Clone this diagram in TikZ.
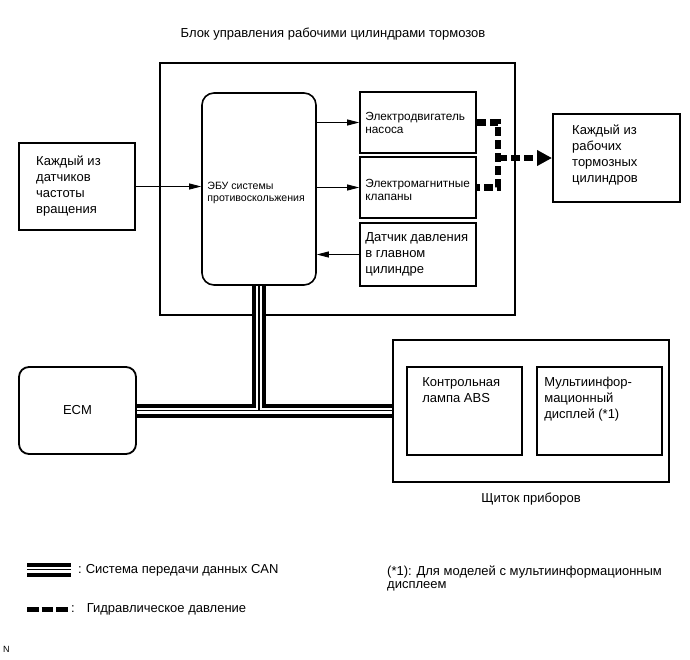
\documentclass[tikz,border=0pt]{standalone}
\usepackage{fontspec}
\setmainfont{Liberation Sans}
\usetikzlibrary{arrows.meta}
\tikzset{
  box/.style={draw, line width=1.6pt, inner sep=0pt},
  txt/.style={inner sep=0pt, align=left, font=\fontsize{13}{16}\selectfont},
  txtsm/.style={inner sep=0pt, align=left, font=\fontsize{10.6}{12}\selectfont},
  txtmd/.style={inner sep=0pt, align=left, font=\fontsize{11.8}{13}\selectfont},
  sig/.style={line width=0.8pt, -{Triangle[length=12pt,width=6pt]}},
  hydro/.style={line width=6.5pt, dash pattern=on 9pt off 4pt}
}
\begin{document}
\begin{tikzpicture}[x=1pt,y=-1pt]
\useasboundingbox (0,0) rectangle (690,659);
\node [box, line width=1.3pt, minimum width=355pt, minimum height=252pt] (blk) at (337.5,189) {};
\node [txt] (ttl) at (333,34) {Блок управления рабочими цилиндрами тормозов};
\node [box, rounded corners=12pt, minimum width=114pt, minimum height=192pt] (ecu) at (259,189) {};
\node [txtsm, anchor=west] (ecuT) at ([xshift=6pt,yshift=-3.5pt]ecu.west) {ЭБУ системы\\противоскольжения};
\node [box, minimum width=116pt, minimum height=61pt] (pump) at (418,122.5) {};
\node [txtmd, anchor=west] (pumpT) at ([xshift=6pt]pump.west) {Электродвигатель\\насоса};
\node [box, minimum width=116pt, minimum height=61pt] (valve) at (418,187.5) {};
\node [txtmd, anchor=west] (valveT) at ([xshift=6pt,yshift=-2pt]valve.west) {Электромагнитные\\клапаны};
\node [box, minimum width=116pt, minimum height=63pt] (psens) at (418,254.5) {};
\node [txt, anchor=west] (psensT) at ([xshift=6pt]psens.west) {Датчик давления\\в главном\\цилиндре};
\node [box, line width=2pt, minimum width=116pt, minimum height=87pt] (wheel) at (77,186.5) {};
\node [txt, anchor=west] (wheelT) at ([xshift=18pt]wheel.west) {Каждый из\\датчиков\\частоты\\вращения};
\node [box, line width=2pt, minimum width=127pt, minimum height=88pt] (wcyl) at (616.5,158) {};
\node [txt, anchor=west] (wcylT) at ([xshift=20pt,yshift=3pt]wcyl.west) {Каждый из\\рабочих\\тормозных\\цилиндров};
\node [box, line width=1.8pt, rounded corners=10pt, minimum width=117pt, minimum height=87pt] (ecm) at (77.5,410.5) {};
\node [txt] (ecmT) at (ecm.center) {ECM};
\node [box, line width=1.8pt, minimum width=276pt, minimum height=142pt] (meter) at (531,411) {};
\node [txt, anchor=north] (meterT) at ([yshift=-10pt]meter.south) {Щиток приборов};
\node [box, line width=1.8pt, minimum width=115pt, minimum height=88pt] (lamp) at (464.5,411) {};
\node [txt, anchor=north west] (lampT) at ([xshift=16pt,yshift=-11pt]lamp.north west) {Контрольная\\лампа ABS};
\node [box, line width=1.8pt, minimum width=125pt, minimum height=88pt] (mfd) at (599.5,411) {};
\node [txt, anchor=north west] (mfdT) at ([xshift=8pt,yshift=-11pt]mfd.north west) {Мультиинфор-\\мационный\\дисплей (*1)};
\draw [sig] (wheel.east) -- (wheel.east -| ecu.west);
\draw [sig] (pump.west -| ecu.east) -- (pump.west);
\draw [sig] (valve.west -| ecu.east) -- (valve.west);
\draw [sig] (psens.west) -- (psens.west -| ecu.east);
\coordinate (hj) at (498,158);
\draw [hydro] (pump.east) -- (pump.east -| hj) -- (valve.east -| hj) -- (valve.east);
\draw [hydro, -{Triangle[length=15pt,width=15pt]}] (hj) -- (wcyl.west);
\foreach \w/\c in {14/black,6/white,1.2/black}
  \draw [line width=\w pt, \c] (ecm.east) -- (ecm.east -| meter.west) (ecu.south) -- (ecu.south |- ecm.east);
\coordinate (lc1) at (27,569.5);
\coordinate (lc2) at (71,569.5);
\foreach \w/\c in {14/black,6/white,1.2/black}
  \draw [line width=\w pt, \c] (lc1) -- (lc2);
\node [txt, anchor=west] (lcan) at (78,570) {:\hspace{4pt}Система передачи данных CAN};
\coordinate (lh1) at (27,609);
\coordinate (lh2) at (69,609);
\draw [line width=5pt, dash pattern=on 11.5pt off 3pt] (lh1) -- (lh2);
\node [txt, anchor=west] (lhyd) at (71,609.5) {:\hspace{12pt}Гидравлическое давление};
\node [txt, anchor=north west, font=\fontsize{13}{13}\selectfont] (note) at (387,566) {(*1): Для моделей с мультиинформационным\\дисплеем};
\node [anchor=west, inner sep=0pt, font=\fontsize{9}{10}\selectfont] (nmark) at (3,649.5) {N};
\end{tikzpicture}
\end{document}
